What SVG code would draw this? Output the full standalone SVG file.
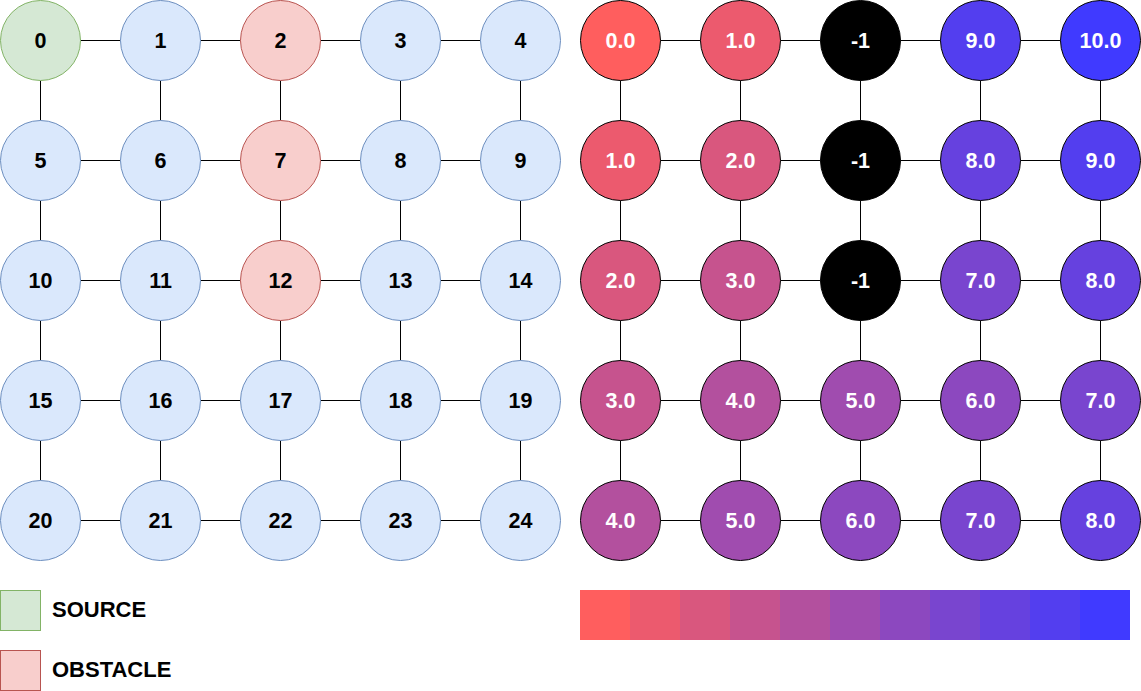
<svg xmlns="http://www.w3.org/2000/svg" width="1141" height="691" viewBox="0 0 1141 691">
<style>
.l{font-family:"Liberation Sans",Arial,sans-serif;font-weight:bold;font-size:21.5px;text-anchor:middle;fill:#000}
.w{font-family:"Liberation Sans",Arial,sans-serif;font-weight:bold;font-size:21.5px;text-anchor:middle;fill:#fff}
.lg{font-family:"Liberation Sans",Arial,sans-serif;font-weight:bold;font-size:22px;fill:#000}
.n{fill:#dae8fc;stroke:#6c8ebf;stroke-width:1}
.s{fill:#d5e8d4;stroke:#82b366;stroke-width:1}
.o{fill:#f8cecc;stroke:#b85450;stroke-width:1}
.r{stroke:#000;stroke-width:1}
.c line{stroke:#000;stroke-width:1}
</style>
<rect width="1141" height="691" fill="#fff"/>
<g id="connectors" class="c" transform="translate(0.5,0.5)">
<line x1="80" y1="40" x2="120" y2="40"/><line x1="200" y1="40" x2="240" y2="40"/><line x1="320" y1="40" x2="360" y2="40"/><line x1="440" y1="40" x2="480" y2="40"/>
<line x1="80" y1="160" x2="120" y2="160"/><line x1="200" y1="160" x2="240" y2="160"/><line x1="320" y1="160" x2="360" y2="160"/><line x1="440" y1="160" x2="480" y2="160"/>
<line x1="80" y1="280" x2="120" y2="280"/><line x1="200" y1="280" x2="240" y2="280"/><line x1="320" y1="280" x2="360" y2="280"/><line x1="440" y1="280" x2="480" y2="280"/>
<line x1="80" y1="400" x2="120" y2="400"/><line x1="200" y1="400" x2="240" y2="400"/><line x1="320" y1="400" x2="360" y2="400"/><line x1="440" y1="400" x2="480" y2="400"/>
<line x1="80" y1="520" x2="120" y2="520"/><line x1="200" y1="520" x2="240" y2="520"/><line x1="320" y1="520" x2="360" y2="520"/><line x1="440" y1="520" x2="480" y2="520"/>
<line x1="40" y1="80" x2="40" y2="120"/><line x1="160" y1="80" x2="160" y2="120"/><line x1="280" y1="80" x2="280" y2="120"/><line x1="400" y1="80" x2="400" y2="120"/><line x1="520" y1="80" x2="520" y2="120"/>
<line x1="40" y1="200" x2="40" y2="240"/><line x1="160" y1="200" x2="160" y2="240"/><line x1="280" y1="200" x2="280" y2="240"/><line x1="400" y1="200" x2="400" y2="240"/><line x1="520" y1="200" x2="520" y2="240"/>
<line x1="40" y1="320" x2="40" y2="360"/><line x1="160" y1="320" x2="160" y2="360"/><line x1="280" y1="320" x2="280" y2="360"/><line x1="400" y1="320" x2="400" y2="360"/><line x1="520" y1="320" x2="520" y2="360"/>
<line x1="40" y1="440" x2="40" y2="480"/><line x1="160" y1="440" x2="160" y2="480"/><line x1="280" y1="440" x2="280" y2="480"/><line x1="400" y1="440" x2="400" y2="480"/><line x1="520" y1="440" x2="520" y2="480"/>
<line x1="660" y1="40" x2="700" y2="40"/><line x1="780" y1="40" x2="820" y2="40"/><line x1="900" y1="40" x2="940" y2="40"/><line x1="1020" y1="40" x2="1060" y2="40"/>
<line x1="660" y1="160" x2="700" y2="160"/><line x1="780" y1="160" x2="820" y2="160"/><line x1="900" y1="160" x2="940" y2="160"/><line x1="1020" y1="160" x2="1060" y2="160"/>
<line x1="660" y1="280" x2="700" y2="280"/><line x1="780" y1="280" x2="820" y2="280"/><line x1="900" y1="280" x2="940" y2="280"/><line x1="1020" y1="280" x2="1060" y2="280"/>
<line x1="660" y1="400" x2="700" y2="400"/><line x1="780" y1="400" x2="820" y2="400"/><line x1="900" y1="400" x2="940" y2="400"/><line x1="1020" y1="400" x2="1060" y2="400"/>
<line x1="660" y1="520" x2="700" y2="520"/><line x1="780" y1="520" x2="820" y2="520"/><line x1="900" y1="520" x2="940" y2="520"/><line x1="1020" y1="520" x2="1060" y2="520"/>
<line x1="620" y1="80" x2="620" y2="120"/><line x1="740" y1="80" x2="740" y2="120"/><line x1="860" y1="80" x2="860" y2="120"/><line x1="980" y1="80" x2="980" y2="120"/><line x1="1100" y1="80" x2="1100" y2="120"/>
<line x1="620" y1="200" x2="620" y2="240"/><line x1="740" y1="200" x2="740" y2="240"/><line x1="860" y1="200" x2="860" y2="240"/><line x1="980" y1="200" x2="980" y2="240"/><line x1="1100" y1="200" x2="1100" y2="240"/>
<line x1="620" y1="320" x2="620" y2="360"/><line x1="740" y1="320" x2="740" y2="360"/><line x1="860" y1="320" x2="860" y2="360"/><line x1="980" y1="320" x2="980" y2="360"/><line x1="1100" y1="320" x2="1100" y2="360"/>
<line x1="620" y1="440" x2="620" y2="480"/><line x1="740" y1="440" x2="740" y2="480"/><line x1="860" y1="440" x2="860" y2="480"/><line x1="980" y1="440" x2="980" y2="480"/><line x1="1100" y1="440" x2="1100" y2="480"/>
</g>
<g id="n0"><circle class="s" cx="40.5" cy="40.5" r="40"/><text class="l" x="40.5" y="48">0</text></g>
<g id="n1"><circle class="n" cx="160.5" cy="40.5" r="40"/><text class="l" x="160.5" y="48">1</text></g>
<g id="n2"><circle class="o" cx="280.5" cy="40.5" r="40"/><text class="l" x="280.5" y="48">2</text></g>
<g id="n3"><circle class="n" cx="400.5" cy="40.5" r="40"/><text class="l" x="400.5" y="48">3</text></g>
<g id="n4"><circle class="n" cx="520.5" cy="40.5" r="40"/><text class="l" x="520.5" y="48">4</text></g>
<g id="n5"><circle class="n" cx="40.5" cy="160.5" r="40"/><text class="l" x="40.5" y="168">5</text></g>
<g id="n6"><circle class="n" cx="160.5" cy="160.5" r="40"/><text class="l" x="160.5" y="168">6</text></g>
<g id="n7"><circle class="o" cx="280.5" cy="160.5" r="40"/><text class="l" x="280.5" y="168">7</text></g>
<g id="n8"><circle class="n" cx="400.5" cy="160.5" r="40"/><text class="l" x="400.5" y="168">8</text></g>
<g id="n9"><circle class="n" cx="520.5" cy="160.5" r="40"/><text class="l" x="520.5" y="168">9</text></g>
<g id="n10"><circle class="n" cx="40.5" cy="280.5" r="40"/><text class="l" x="40.5" y="288">10</text></g>
<g id="n11"><circle class="n" cx="160.5" cy="280.5" r="40"/><text class="l" x="160.5" y="288">11</text></g>
<g id="n12"><circle class="o" cx="280.5" cy="280.5" r="40"/><text class="l" x="280.5" y="288">12</text></g>
<g id="n13"><circle class="n" cx="400.5" cy="280.5" r="40"/><text class="l" x="400.5" y="288">13</text></g>
<g id="n14"><circle class="n" cx="520.5" cy="280.5" r="40"/><text class="l" x="520.5" y="288">14</text></g>
<g id="n15"><circle class="n" cx="40.5" cy="400.5" r="40"/><text class="l" x="40.5" y="408">15</text></g>
<g id="n16"><circle class="n" cx="160.5" cy="400.5" r="40"/><text class="l" x="160.5" y="408">16</text></g>
<g id="n17"><circle class="n" cx="280.5" cy="400.5" r="40"/><text class="l" x="280.5" y="408">17</text></g>
<g id="n18"><circle class="n" cx="400.5" cy="400.5" r="40"/><text class="l" x="400.5" y="408">18</text></g>
<g id="n19"><circle class="n" cx="520.5" cy="400.5" r="40"/><text class="l" x="520.5" y="408">19</text></g>
<g id="n20"><circle class="n" cx="40.5" cy="520.5" r="40"/><text class="l" x="40.5" y="528">20</text></g>
<g id="n21"><circle class="n" cx="160.5" cy="520.5" r="40"/><text class="l" x="160.5" y="528">21</text></g>
<g id="n22"><circle class="n" cx="280.5" cy="520.5" r="40"/><text class="l" x="280.5" y="528">22</text></g>
<g id="n23"><circle class="n" cx="400.5" cy="520.5" r="40"/><text class="l" x="400.5" y="528">23</text></g>
<g id="n24"><circle class="n" cx="520.5" cy="520.5" r="40"/><text class="l" x="520.5" y="528">24</text></g>
<g id="d0"><circle class="r" fill="#FF5E5E" cx="620.5" cy="40.5" r="40"/><text class="w" x="620.5" y="48">0.0</text></g>
<g id="d1"><circle class="r" fill="#EC5A6E" cx="740.5" cy="40.5" r="40"/><text class="w" x="740.5" y="48">1.0</text></g>
<g id="d2"><circle class="r" fill="#000000" cx="860.5" cy="40.5" r="40"/><text class="w" x="860.5" y="48">-1</text></g>
<g id="d3"><circle class="r" fill="#533EEF" cx="980.5" cy="40.5" r="40"/><text class="w" x="980.5" y="48">9.0</text></g>
<g id="d4"><circle class="r" fill="#403AFF" cx="1100.5" cy="40.5" r="40"/><text class="w" x="1100.5" y="48">10.0</text></g>
<g id="d5"><circle class="r" fill="#EC5A6E" cx="620.5" cy="160.5" r="40"/><text class="w" x="620.5" y="168">1.0</text></g>
<g id="d6"><circle class="r" fill="#D9577E" cx="740.5" cy="160.5" r="40"/><text class="w" x="740.5" y="168">2.0</text></g>
<g id="d7"><circle class="r" fill="#000000" cx="860.5" cy="160.5" r="40"/><text class="w" x="860.5" y="168">-1</text></g>
<g id="d8"><circle class="r" fill="#6641DF" cx="980.5" cy="160.5" r="40"/><text class="w" x="980.5" y="168">8.0</text></g>
<g id="d9"><circle class="r" fill="#533EEF" cx="1100.5" cy="160.5" r="40"/><text class="w" x="1100.5" y="168">9.0</text></g>
<g id="d10"><circle class="r" fill="#D9577E" cx="620.5" cy="280.5" r="40"/><text class="w" x="620.5" y="288">2.0</text></g>
<g id="d11"><circle class="r" fill="#C6538E" cx="740.5" cy="280.5" r="40"/><text class="w" x="740.5" y="288">3.0</text></g>
<g id="d12"><circle class="r" fill="#000000" cx="860.5" cy="280.5" r="40"/><text class="w" x="860.5" y="288">-1</text></g>
<g id="d13"><circle class="r" fill="#7945CF" cx="980.5" cy="280.5" r="40"/><text class="w" x="980.5" y="288">7.0</text></g>
<g id="d14"><circle class="r" fill="#6641DF" cx="1100.5" cy="280.5" r="40"/><text class="w" x="1100.5" y="288">8.0</text></g>
<g id="d15"><circle class="r" fill="#C6538E" cx="620.5" cy="400.5" r="40"/><text class="w" x="620.5" y="408">3.0</text></g>
<g id="d16"><circle class="r" fill="#B3509E" cx="740.5" cy="400.5" r="40"/><text class="w" x="740.5" y="408">4.0</text></g>
<g id="d17"><circle class="r" fill="#A04CAF" cx="860.5" cy="400.5" r="40"/><text class="w" x="860.5" y="408">5.0</text></g>
<g id="d18"><circle class="r" fill="#8C48BF" cx="980.5" cy="400.5" r="40"/><text class="w" x="980.5" y="408">6.0</text></g>
<g id="d19"><circle class="r" fill="#7945CF" cx="1100.5" cy="400.5" r="40"/><text class="w" x="1100.5" y="408">7.0</text></g>
<g id="d20"><circle class="r" fill="#B3509E" cx="620.5" cy="520.5" r="40"/><text class="w" x="620.5" y="528">4.0</text></g>
<g id="d21"><circle class="r" fill="#A04CAF" cx="740.5" cy="520.5" r="40"/><text class="w" x="740.5" y="528">5.0</text></g>
<g id="d22"><circle class="r" fill="#8C48BF" cx="860.5" cy="520.5" r="40"/><text class="w" x="860.5" y="528">6.0</text></g>
<g id="d23"><circle class="r" fill="#7945CF" cx="980.5" cy="520.5" r="40"/><text class="w" x="980.5" y="528">7.0</text></g>
<g id="d24"><circle class="r" fill="#6641DF" cx="1100.5" cy="520.5" r="40"/><text class="w" x="1100.5" y="528">8.0</text></g>
<g id="legend-source"><rect class="s" x="0.5" y="590.5" width="40" height="40"/><text class="lg" x="52" y="617">SOURCE</text></g>
<g id="legend-obstacle"><rect class="o" x="0.5" y="650.5" width="40" height="40"/><text class="lg" x="52" y="677">OBSTACLE</text></g>
<g id="colorbar">
<rect x="580" y="590" width="50" height="50" fill="#FF5E5E"/>
<rect x="630" y="590" width="50" height="50" fill="#EC5A6E"/>
<rect x="680" y="590" width="50" height="50" fill="#D9577E"/>
<rect x="730" y="590" width="50" height="50" fill="#C6538E"/>
<rect x="780" y="590" width="50" height="50" fill="#B3509E"/>
<rect x="830" y="590" width="50" height="50" fill="#A04CAF"/>
<rect x="880" y="590" width="50" height="50" fill="#8C48BF"/>
<rect x="930" y="590" width="50" height="50" fill="#7945CF"/>
<rect x="980" y="590" width="50" height="50" fill="#6641DF"/>
<rect x="1030" y="590" width="50" height="50" fill="#533EEF"/>
<rect x="1080" y="590" width="50" height="50" fill="#403AFF"/>
</g>
</svg>
